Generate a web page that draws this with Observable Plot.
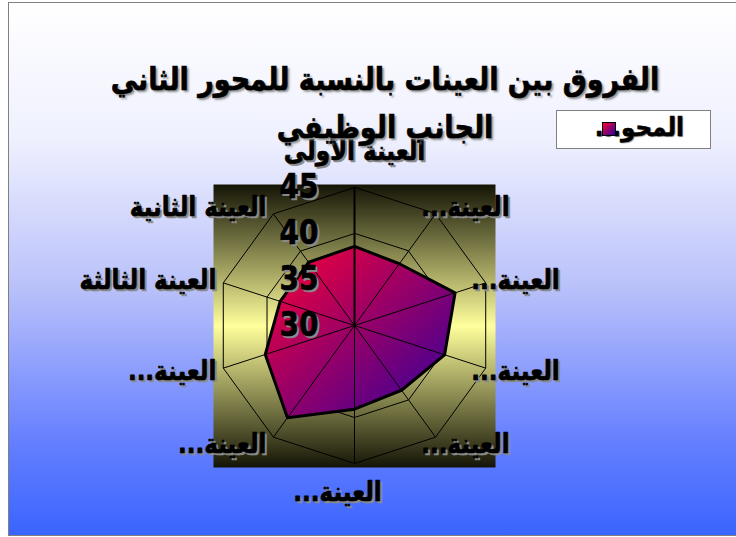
<!DOCTYPE html>
<html><head><meta charset="utf-8">
<script src="https://cdn.jsdelivr.net/npm/d3@7"></script>
<script src="https://cdn.jsdelivr.net/npm/@observablehq/plot@0.6"></script>
<style>
html,body{margin:0;padding:0;width:736px;height:537px;overflow:hidden;background:#fff;}
#frame{position:absolute;left:8px;top:2px;width:760px;height:532px;border:1px solid #808080;
  background:linear-gradient(to bottom,#ffffff 0%,#eef0fe 26%,#b8c0fa 54%,#6680ff 82%,#3a64ff 100%);}
#chart{position:absolute;left:0;top:0;}
#title{position:absolute;left:100px;width:570px;top:55px;text-align:center;direction:rtl;
  font-family:"DejaVu Sans",sans-serif;font-weight:bold;font-size:27px;line-height:42px;color:#000;
  -webkit-text-stroke:0.6px #000;text-shadow:2px 2px 2px #8a8a8a;transform:scaleY(1.15);transform-origin:center top;}
#legend{position:absolute;left:556px;top:110px;width:153px;height:37px;background:#fff;border:1px solid #808080;}
#legtext{position:absolute;right:26px;top:3px;direction:rtl;font-family:"DejaVu Sans",sans-serif;font-weight:bold;font-size:23px;
  -webkit-text-stroke:0.5px #000;text-shadow:1px 1px 1px #8a8a8a;transform:scaleY(1.12);}
#legmark{position:absolute;top:11px;width:12px;height:12px;border:1px solid #000;background:linear-gradient(135deg,#ff0033,#2a00a0);}
</style>
</head><body>
<div id="frame"></div>
<div id="chart"></div>
<div id="title"></div>
<div id="legend"><span id="legtext"></span><div id="legmark"></div></div>
<script>
const titleLines = ["الفروق بين العينات بالنسبة للمحور الثاني", "الجانب الوظيفي"];
const seriesName = "المحو...";
const categories = ["العينة الأولى","العينة الثانية","العينة الثالثة","العينة...","العينة...","العينة...","العينة...","العينة...","العينة...","العينة..."];
const values = [38.6, 38.5, 38.5, 40.2, 42.4, 39.1, 38.7, 40.3, 41.5, 38.3];
const ticks = [30, 35, 40, 45];

document.getElementById("title").innerHTML = titleLines.join("<br>");
document.getElementById("legtext").textContent = seriesName;

const rMin = d3.min(ticks), rMax = d3.max(ticks), span = rMax - rMin;
const n = categories.length;
const ang = i => -i * 2 * Math.PI / n;
const px = (v, i) => (v - rMin) * Math.sin(ang(i));
const py = (v, i) => (v - rMin) * Math.cos(ang(i));

const poly = values.map((v, i) => ({x: px(v, i), y: py(v, i)}));
const rings = ticks.filter(t => t > rMin).flatMap(t => categories.map((c, i) => ({t, x: px(t, i), y: py(t, i)})));
const spokes = categories.map((c, i) => ({i, x2: px(rMax, i), y2: py(rMax, i)}));
const labels = categories.map((c, i) => ({c: "\u200F" + c + "\u200F", i, x: px(rMax, i), y: (span + 0.95) * Math.cos(ang(i))}));
const tickData = ticks.map(t => ({t, y: t - rMin}));

const font = {fontFamily: "DejaVu Sans, sans-serif", fontWeight: "bold"};
function shadowText(data, opts) {
  return [
    Plot.text(data, {...opts, fill: "#8a8a8a", stroke: "#8a8a8a", strokeWidth: 0.6, dx: (opts.dx || 0) + 2, dy: (opts.dy || 0) + 2}),
    Plot.text(data, {...opts, fill: "black", stroke: "black", strokeWidth: 0.6})
  ];
}
const labOpts = {x: "x", y: "y", text: "c", fontSize: 23, className: "cat", ...font};

const chart = Plot.plot({
  width: 736, height: 537,
  marginLeft: 213, marginRight: 241, marginTop: 184, marginBottom: 70,
  x: {domain: [-span * 1.022, span * 1.022], axis: null},
  y: {domain: [-span * 1.029, span * 1.022], axis: null},
  style: {background: "transparent", overflow: "visible"},
  marks: [
    Plot.frame({fill: "url(#plotBg)", stroke: null}),
    Plot.line(rings, {x: "x", y: "y", z: "t", curve: "linear-closed", stroke: "black", strokeWidth: 1}),
    Plot.line(poly, {x: "x", y: "y", curve: "linear-closed", fill: "url(#polyGrad)", stroke: "black", strokeWidth: 3}),
    Plot.link(spokes, {x1: () => 0, y1: () => 0, x2: "x2", y2: "y2", stroke: "black", strokeWidth: d => d.i === 0 ? 2 : 1}),
    ...shadowText(tickData, {x: () => 0, y: "y", text: d => String(d.t), textAnchor: "end", dx: -36, fontSize: 28, className: "tk", ...font}),
    ...shadowText(labels.filter(d => d.i === 0), {...labOpts, textAnchor: "middle", dy: -27}),
    ...shadowText(labels.filter(d => d.i === n / 2), {...labOpts, textAnchor: "middle", dx: -17, dy: 20}),
    ...shadowText(labels.filter(d => d.i > 0 && d.i < n / 2), {...labOpts, textAnchor: "end", dx: -7}),
    ...shadowText(labels.filter(d => d.i > n / 2), {...labOpts, textAnchor: "end", dx: 74})
  ]
});

const defs = d3.select(chart).insert("defs", ":first-child");
const bg = defs.append("linearGradient").attr("id", "plotBg").attr("x1", 0).attr("y1", 0).attr("x2", 0).attr("y2", 1);
[[0, "#141406"], [0.5, "#ffff9c"], [1, "#141406"]].forEach(([o, c]) => bg.append("stop").attr("offset", o).attr("stop-color", c));
const pg = defs.append("linearGradient").attr("id", "polyGrad").attr("x1", 0).attr("y1", 0).attr("x2", 1).attr("y2", 1);
[[0, "#ff0033"], [1, "#2a00a0"]].forEach(([o, c]) => pg.append("stop").attr("offset", o).attr("stop-color", c));

// make the Arabic/number labels a little taller, like the reference face
d3.select(chart).selectAll(".cat text, .tk text").each(function () {
  const t = this.getAttribute("transform") || "";
  this.setAttribute("transform", t + " scale(1,1.18)");
});

document.getElementById("chart").append(chart);

// place legend swatch over the trailing dots of the legend text
const lg = document.getElementById("legend").getBoundingClientRect();
const lt = document.getElementById("legtext").getBoundingClientRect();
document.getElementById("legmark").style.left = (lt.left - lg.left + 6) + "px";
</script>
</body></html>
